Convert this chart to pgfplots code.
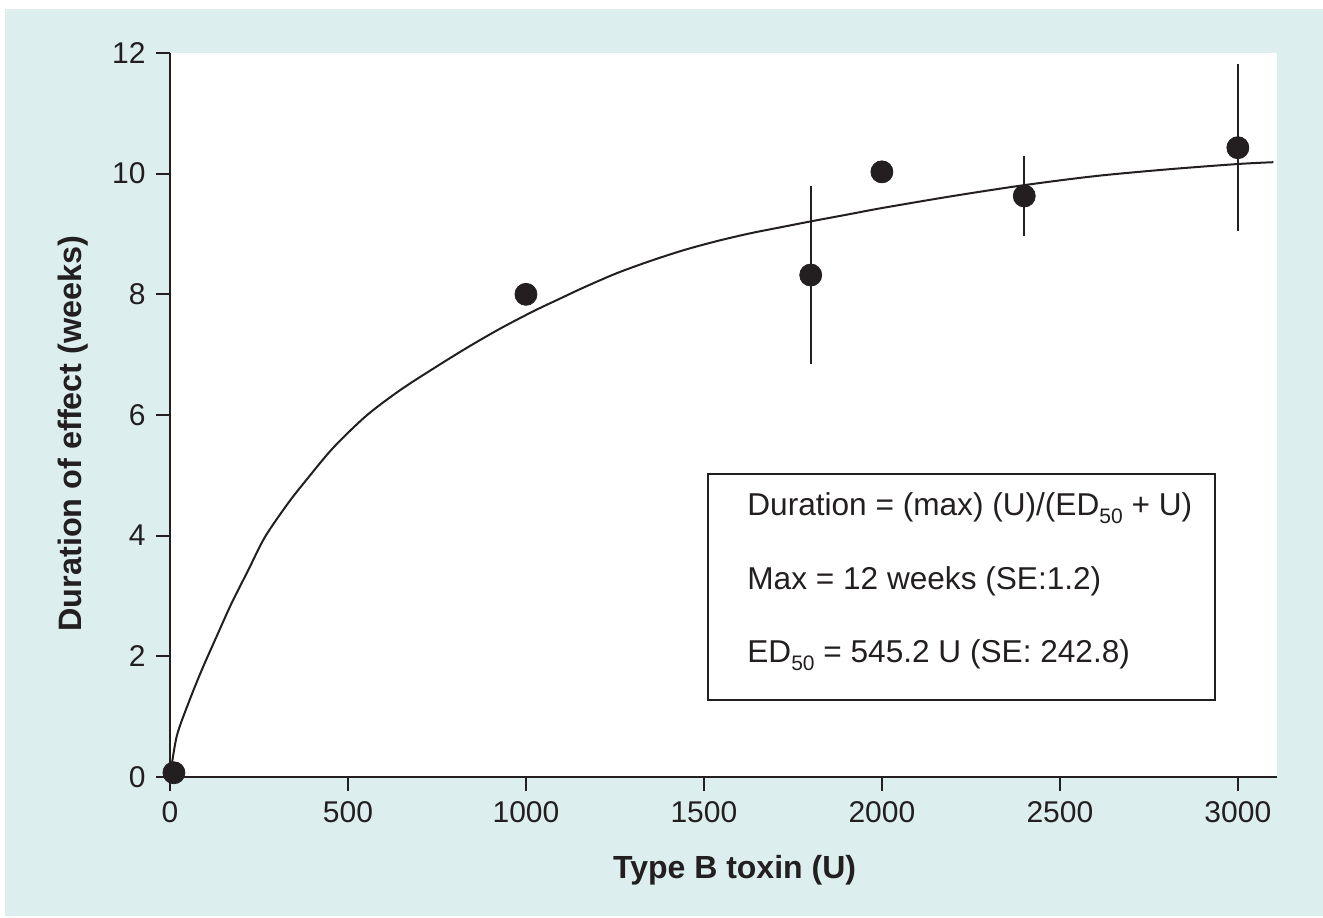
\documentclass[border=0pt]{standalone}
\usepackage{pgfplots}
\pgfplotsset{compat=1.18}
\usepackage{fontspec}
\setmainfont{Liberation Sans}
\definecolor{bgcyan}{HTML}{DCEFEE}
\definecolor{ink}{HTML}{231F20}
\begin{document}
\fontsize{15}{18}\selectfont
\begin{tikzpicture}
\useasboundingbox (0,0) rectangle (661.5pt,458.5pt);
\fill[white] (0,0) rectangle (661.5pt,458.5pt);
\fill[bgcyan] (2.5pt,0.5pt) rectangle (661.5pt,454pt);
\begin{axis}[
  at={(85pt,70pt)}, anchor=south west,
  scale only axis, width=553.5pt, height=362pt,
  xmin=0, xmax=3110, ymin=0, ymax=12,
  axis x line*=bottom, axis y line*=left,
  axis background/.style={fill=white},
  axis line style={ink, line width=1pt},
  every tick/.style={ink, line width=0.9pt},
  tick align=outside,
  major tick length=7pt,
  xtick={0,500,1000,1500,2000,2500,3000},
  ytick={0,2,4,6,8,10,12},
  minor tick num=0,
  /pgf/number format/assume math mode=true,
  /pgf/number format/set thousands separator={},
  ticklabel style={font=\fontsize{15}{18}\selectfont, text=ink},
  xlabel={\bfseries Type B toxin (U)},
  ylabel={\bfseries Duration of effect (weeks)},
  xlabel style={at={(axis description cs:0.510,-0.1285)}, anchor=center, font=\fontsize{16}{18}\selectfont, text=ink},
  ylabel style={at={(axis description cs:-0.0876,0.4745)}, anchor=center, rotate=0, font=\fontsize{16.2}{18}\selectfont, text=ink},
  clip=false,
]
\addplot[ink, line width=1pt, smooth, tension=0.5] coordinates {
(0,0) (18.7,0.67) (51.5,1.22) (89,1.77) (131,2.33) (173,2.88) (220,3.43)
(267,3.98) (332,4.54) (384,4.93) (459,5.46) (552,5.99) (646,6.41) (740,6.77)
(833,7.11) (927,7.43) (1021,7.72) (1096,7.93) (1161,8.11) (1255,8.35)
(1348,8.55) (1442,8.73) (1535,8.88) (1629,9.01) (1723,9.12) (1801,9.21)
(1910,9.33) (2000,9.43) (2200,9.63) (2400,9.81) (2600,9.96) (2800,10.07)
(3000,10.16) (3100,10.19)
};
\addplot[only marks, mark=*, mark size=5.5pt, mark options={fill=ink, draw=ink},
  error bars/.cd, y dir=both, y explicit,
  error bar style={ink, line width=1pt}, error mark=none]
  coordinates {
(11,0.07) +- (0,0)
(1000,8.0) +- (0,0)
(1800,8.32) +- (0,1.47)
(2000,10.03) +- (0,0)
(2400,9.63) +- (0,0.67)
(3000,10.43) +- (0,1.38)
};
\draw[ink, line width=0.8pt, fill=white] (axis cs:1511,1.28) rectangle (axis cs:2935,5.02);
\node[anchor=base west, inner sep=0pt, text=ink, font=\fontsize{15.8}{18}\selectfont] at (axis cs:1621,4.34)
  {Duration = (max) (U)/(ED\raisebox{-4pt}{\fontsize{10.5}{10}\selectfont 50} + U)};
\node[anchor=base west, inner sep=0pt, text=ink, font=\fontsize{15.8}{18}\selectfont] at (axis cs:1621,3.10)
  {Max = 12 weeks (SE:1.2)};
\node[anchor=base west, inner sep=0pt, text=ink, font=\fontsize{15.8}{18}\selectfont] at (axis cs:1621,1.89)
  {ED\raisebox{-4pt}{\fontsize{10.5}{10}\selectfont 50} = 545.2 U (SE: 242.8)};
\end{axis}
\end{tikzpicture}
\end{document}
